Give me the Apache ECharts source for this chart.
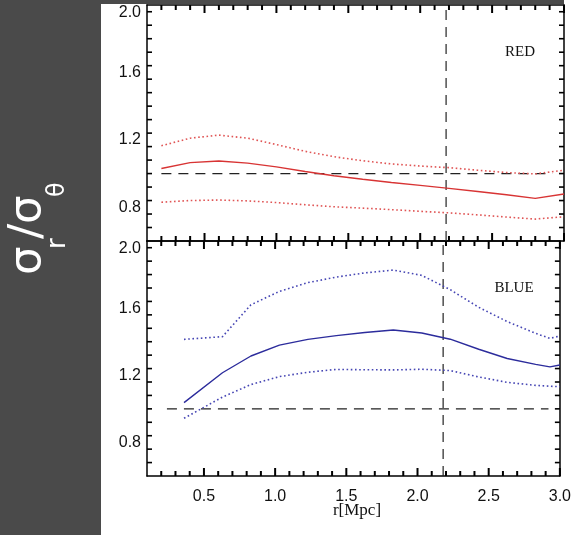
<!DOCTYPE html>
<html>
<head>
<meta charset="utf-8">
<script src="https://cdn.jsdelivr.net/npm/echarts@6/dist/echarts.min.js"></script>
<style>
  html, body { margin: 0; padding: 0; background: #ffffff; }
  #chart { width: 574px; height: 535px; }
</style>
</head>
<body>
<div id="chart"></div>
<script>
// Velocity anisotropy sigma_r / sigma_theta versus radius, red and blue galaxy samples

// radii (Mpc)
const redR  = [0.2, 0.4, 0.6, 0.8, 1.0, 1.2, 1.4, 1.6, 1.8, 2.0, 2.2, 2.4, 2.6, 2.8, 3.0];
const redMean  = [1.030, 1.065, 1.075, 1.062, 1.040, 1.012, 0.987, 0.966, 0.947, 0.930, 0.912, 0.894, 0.874, 0.853, 0.879];
const redUpper = [1.165, 1.210, 1.228, 1.210, 1.172, 1.132, 1.100, 1.076, 1.057, 1.045, 1.035, 1.020, 1.006, 0.998, 1.020];
const redLower = [0.830, 0.840, 0.843, 0.838, 0.828, 0.815, 0.803, 0.795, 0.786, 0.776, 0.767, 0.755, 0.742, 0.730, 0.744];

const blueR = [0.36, 0.63, 0.83, 1.03, 1.23, 1.43, 1.63, 1.83, 2.03, 2.23, 2.43, 2.63, 2.83, 2.93, 3.0];
const blueMean  = [1.037, 1.215, 1.315, 1.380, 1.414, 1.436, 1.455, 1.470, 1.452, 1.415, 1.355, 1.300, 1.265, 1.250, 1.261];
const blueUpper = [1.414, 1.430, 1.620, 1.700, 1.752, 1.785, 1.810, 1.827, 1.795, 1.710, 1.605, 1.520, 1.450, 1.420, 1.434];
const blueLower = [0.944, 1.070, 1.145, 1.192, 1.218, 1.235, 1.233, 1.232, 1.236, 1.228, 1.190, 1.158, 1.140, 1.135, 1.132];

// reference lines: isotropy and the virial radius
const isotropy = 1.0;
const rVirial = 2.18;
const redIsoSpan = [0.2, 2.92];
const blueIsoSpan = [0.24, 2.92];

// axis ranges and tick labels
const xRange = [0.1, 3.0];
const yRange = [0.6, 2.0];
const xTickLabels = [0.5, 1.0, 1.5, 2.0, 2.5, 3.0];
const yTickLabels = [0.8, 1.2, 1.6, 2.0];
const xMinorStep = 0.1;
const yMinorStep = 0.08;

const RED = '#d83434';
const RED_DOT = '#e05555';
const BLUE = '#2c2c9c';
const BLUE_DOT = '#4646b4';
const INK = '#000000';
const tickFont = { fontFamily: 'Liberation Sans', fontSize: 16, color: '#111' };
const MAJOR_LEN = 9;
const MINOR_LEN = 5;
const TICK_W = 1.6;

const grids = [
  { left: 147, right: 10, top: 5, height: 236 },
  { left: 147, right: 10, top: 241, height: 235 }
];

const xAxes = [];
const yAxes = [];
const frameLine = { show: true, onZero: false, lineStyle: { color: INK, width: 1.5 } };

function addX(gridIndex, position, labels) {
  xAxes.push({
    type: 'value', gridIndex, position, min: xRange[0], max: xRange[1],
    axisLine: frameLine,
    axisTick: { show: false },
    axisLabel: Object.assign({ show: labels, customValues: xTickLabels, margin: 13, formatter: v => v.toFixed(1) }, tickFont),
    splitLine: { show: false }
  });
  return xAxes.length - 1;
}
function addY(gridIndex, position, labels) {
  yAxes.push({
    type: 'value', gridIndex, position, min: yRange[0], max: yRange[1],
    axisLine: frameLine,
    axisTick: { show: false },
    axisLabel: Object.assign({ show: labels, customValues: yTickLabels, margin: 6, formatter: v => v.toFixed(1), verticalAlignMaxLabel: 'top' }, tickFont),
    splitLine: { show: false }
  });
  return yAxes.length - 1;
}

const axisIdx = [];
for (let g = 0; g < 2; g++) {
  const xb = addX(g, 'bottom', g === 1);
  addX(g, 'top', false);
  const yl = addY(g, 'left', true);
  addY(g, 'right', false);
  axisIdx.push({ x: xb, y: yl });
}

function pairs(xs, ys) { return xs.map((x, i) => [x, ys[i]]); }

function curve(g, xs, ys, color, dotted, width) {
  return {
    type: 'line', xAxisIndex: axisIdx[g].x, yAxisIndex: axisIdx[g].y,
    data: pairs(xs, ys), showSymbol: false, symbol: 'none', silent: true,
    lineStyle: { color, width, type: dotted ? [1.6, 2.6] : 'solid' },
    z: 3
  };
}
function refLine(g, pts) {
  return {
    type: 'line', xAxisIndex: axisIdx[g].x, yAxisIndex: axisIdx[g].y,
    data: pts, showSymbol: false, symbol: 'none', silent: true,
    lineStyle: { color: '#222', width: 1.2, type: [10, 7] },
    z: 2
  };
}

const series = [
  refLine(0, [[redIsoSpan[0], isotropy], [redIsoSpan[1], isotropy]]),
  refLine(0, [[rVirial, yRange[0]], [rVirial, yRange[1]]]),
  curve(0, redR, redUpper, RED_DOT, true, 1.6),
  curve(0, redR, redLower, RED_DOT, true, 1.6),
  curve(0, redR, redMean, RED, false, 1.4),
  refLine(1, [[blueIsoSpan[0], isotropy], [blueIsoSpan[1], isotropy]]),
  refLine(1, [[rVirial, yRange[0]], [rVirial, yRange[1]]]),
  curve(1, blueR, blueUpper, BLUE_DOT, true, 1.6),
  curve(1, blueR, blueLower, BLUE_DOT, true, 1.6),
  curve(1, blueR, blueMean, BLUE, false, 1.4)
];

const PANEL = '#4a4a4a';
const graphic = [
  { type: 'rect', left: 0, top: 0, shape: { width: 101, height: 535 }, style: { fill: PANEL }, silent: true, z: 0 },
  { type: 'rect', left: 0, top: 0, shape: { width: 564, height: 4 }, style: { fill: PANEL }, silent: true, z: 0 },
  {
    type: 'group', x: 40, y: 228, rotation: Math.PI / 2, silent: true,
    children: [
      { type: 'text', x: -47, y: -12, style: { text: 'σ', fill: '#fff', font: '45px "DejaVu Sans"', verticalAlign: 'middle', align: 'left' } },
      { type: 'text', x: -21, y: 18, style: { text: 'r', fill: '#fff', font: '26px "DejaVu Sans"', verticalAlign: 'middle', align: 'left' } },
      { type: 'text', x: -11, y: -12, style: { text: '/', fill: '#fff', font: '45px "DejaVu Sans"', verticalAlign: 'middle', align: 'left' } },
      { type: 'text', x: 4, y: -12, style: { text: 'σ', fill: '#fff', font: '45px "DejaVu Sans"', verticalAlign: 'middle', align: 'left' } },
      { type: 'text', x: 31, y: 18, style: { text: 'θ', fill: '#fff', font: '24px "DejaVu Sans"', verticalAlign: 'middle', align: 'left' } }
    ]
  },
  { type: 'text', x: 520, y: 52, style: { text: 'RED', fill: '#111', font: '15px "Liberation Serif"', align: 'center', verticalAlign: 'middle' }, silent: true },
  { type: 'text', x: 514, y: 288, style: { text: 'BLUE', fill: '#111', font: '15px "Liberation Serif"', align: 'center', verticalAlign: 'middle' }, silent: true },
  { type: 'text', x: 357, y: 511, style: { text: 'r[Mpc]', fill: '#111', font: '17px "Liberation Serif"', align: 'center', verticalAlign: 'middle' }, silent: true }
];

const chart = echarts.init(document.getElementById('chart'), null, { renderer: 'canvas' });
chart.setOption({
  backgroundColor: '#ffffff',
  animation: false,
  grid: grids,
  xAxis: xAxes,
  yAxis: yAxes,
  series,
  graphic
});

// inward tick marks on all four edges of each panel, placed through the axis scales
function isMajor(v, labels) { return labels.some(t => Math.abs(t - v) < 1e-6); }
function tick(x, y, w, h) {
  return { type: 'rect', silent: true, z: 100, shape: { x, y, width: w, height: h }, style: { fill: INK } };
}
const tickMarks = [];
for (let g = 0; g < 2; g++) {
  const finder = { gridIndex: g };
  const y0 = chart.convertToPixel({ yAxisIndex: axisIdx[g].y }, yRange[0]);
  const y1 = chart.convertToPixel({ yAxisIndex: axisIdx[g].y }, yRange[1]);
  const x0 = chart.convertToPixel({ xAxisIndex: axisIdx[g].x }, xRange[0]);
  const x1 = chart.convertToPixel({ xAxisIndex: axisIdx[g].x }, xRange[1]);
  for (let k = 1; xRange[0] + k * xMinorStep <= xRange[1] + 1e-9; k++) {
    const v = +(xRange[0] + k * xMinorStep).toFixed(3);
    const len = isMajor(v, xTickLabels) ? MAJOR_LEN - 1 : MINOR_LEN;
    const px = chart.convertToPixel({ xAxisIndex: axisIdx[g].x }, v);
    tickMarks.push(tick(px - 1, y0 - len, 2, len));
    tickMarks.push(tick(px - 1, y1, 2, len));
  }
  for (let k = 1; yRange[0] + k * yMinorStep <= yRange[1] + 1e-9; k++) {
    const v = +(yRange[0] + k * yMinorStep).toFixed(3);
    const len = isMajor(v, yTickLabels) ? MAJOR_LEN : MINOR_LEN;
    const py = chart.convertToPixel({ yAxisIndex: axisIdx[g].y }, v);
    tickMarks.push(tick(x0, py - TICK_W / 2, len, TICK_W));
    tickMarks.push(tick(x1 - len, py - TICK_W / 2, len, TICK_W));
  }
}
chart.setOption({ graphic: graphic.concat(tickMarks) });
</script>
</body>
</html>
